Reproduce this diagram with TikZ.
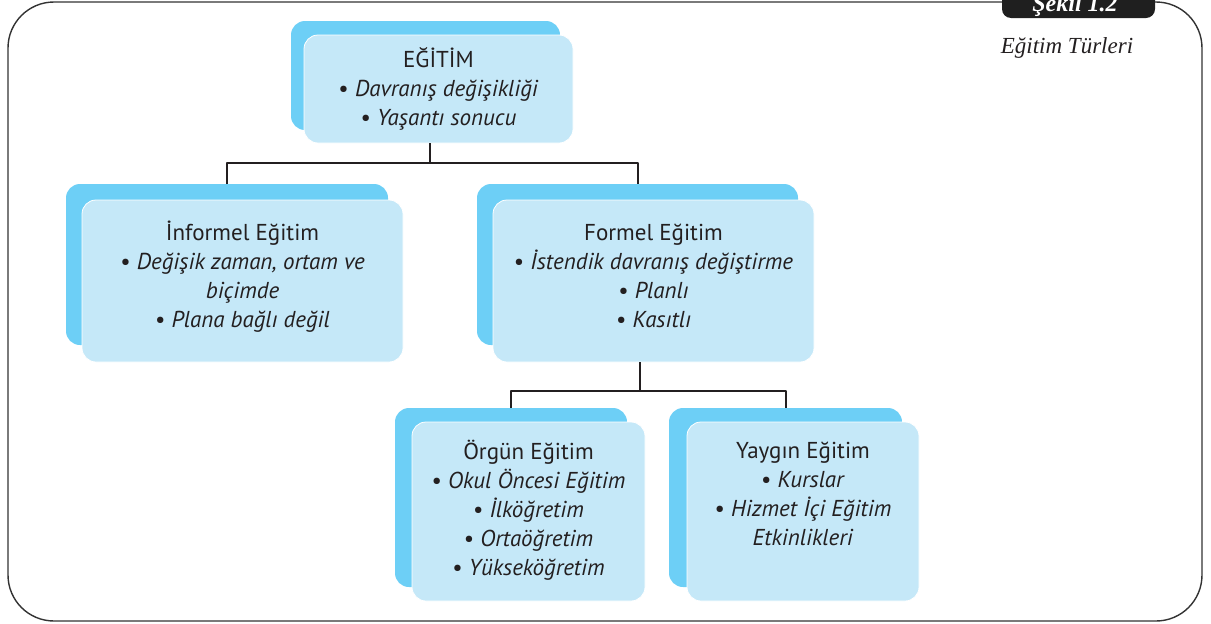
\documentclass[tikz,border=0pt]{standalone}
\usepackage{fontspec}
\setmainfont{Liberation Serif}
\setsansfont{PT Sans}
\usepackage{tikz}
\usetikzlibrary{positioning}
\definecolor{boxdark}{HTML}{6DCFF6}
\definecolor{boxlight}{HTML}{C5E8F8}
\definecolor{ink}{HTML}{231F20}
\newcommand{\madde}[1]{\textbullet\ \textit{#1}}

\begin{document}
\begin{tikzpicture}[
    x=1pt, y=-1pt, line join=round,
    backbox/.style ={fill=boxdark, rounded corners=14pt, anchor=north west, inner sep=0pt, outer sep=0pt},
    frontbox/.style={fill=boxlight, draw=white, line width=0.8pt, rounded corners=14pt, inner sep=0pt, outer sep=0pt},
    boxtext/.style ={font=\sffamily\fontsize{23}{29}\selectfont, text=ink, align=center, anchor=base, inner sep=0pt},
    conn/.style    ={draw=ink, line width=2pt},
    frame/.style   ={draw=black!80, line width=1.4pt, rounded corners=46pt}
]
\useasboundingbox (0,0) rectangle (1211,624);

% outer frame and figure tab
\draw[frame] (8,2) rectangle (1202,621);
\fill[black!88, rounded corners=9pt] (1002,-20) rectangle (1155,18);
\node[font=\bfseries\itshape\fontsize{24}{24}\selectfont, text=white, anchor=base] (sekil) at (1075,11) {Şekil 1.2};
\node[font=\itshape\fontsize{23}{23}\selectfont, text=ink, anchor=base] (baslik) at (1067,53) {Eğitim Türleri};

% EĞİTİM (top)
\node[backbox, minimum width=269pt, minimum height=109pt] (egitimB) at (291,21) {};
\node[frontbox, minimum width=269pt, minimum height=108pt, below right=14pt and 13pt of egitimB.north west] (egitim) {};
\node[boxtext] (egitimT) at ([yshift=-90pt]egitim.north) {EĞİTİM\\ \madde{Davranış değişikliği}\\ \madde{Yaşantı sonucu}};

% İnformel Eğitim
\node[backbox, minimum width=322pt, minimum height=161pt] (informelB) at (66,184) {};
\node[frontbox, minimum width=321pt, minimum height=162pt, below right=16pt and 16pt of informelB.north west] (informel) {};
\node[boxtext] (informelT) at ([yshift=-127pt]informel.north) {İnformel Eğitim\\ \madde{Değişik zaman, ortam ve}\\ \textit{biçimde}\\ \madde{Plana bağlı değil}};

% Formel Eğitim
\node[backbox, minimum width=321pt, minimum height=161pt] (formelB) at (477,184) {};
\node[frontbox, minimum width=321pt, minimum height=162pt, below right=16pt and 16pt of formelB.north west] (formel) {};
\node[boxtext] (formelT) at ([yshift=-127pt]formel.north) {Formel Eğitim\\ \madde{İstendik davranış değiştirme}\\ \madde{Planlı}\\ \madde{Kasıtlı}};

% Örgün Eğitim
\node[backbox, minimum width=232pt, minimum height=179pt] (orgunB) at (395,408) {};
\node[frontbox, minimum width=233pt, minimum height=179pt, below right=14pt and 17pt of orgunB.north west] (orgun) {};
\node[boxtext] (orgunT) at ([yshift=-153pt]orgun.north) {Örgün Eğitim\\ \madde{Okul Öncesi Eğitim}\\ \madde{İlköğretim}\\ \madde{Ortaöğretim}\\ \madde{Yükseköğretim}};

% Yaygın Eğitim
\node[backbox, minimum width=233pt, minimum height=179pt] (yayginB) at (669,408) {};
\node[frontbox, minimum width=232pt, minimum height=179pt, below right=14pt and 18pt of yayginB.north west] (yaygin) {};
\node[boxtext] (yayginT) at ([yshift=-123pt]yaygin.north) {Yaygın Eğitim\\ \madde{Kurslar}\\ \madde{Hizmet İçi Eğitim}\\ \textit{Etkinlikleri}};

% connectors
\coordinate (j1) at (430,163);
\coordinate (j2) at (640,391);
\draw[conn] (egitim.south -| j1) -- (j1);
\draw[conn] (informelB.north) |- (j1) -| (formelB.north);
\draw[conn] (formel.south -| j2) -- (j2);
\draw[conn] (orgunB.north) |- (j2) -| (yayginB.north);
\end{tikzpicture}
\end{document}
